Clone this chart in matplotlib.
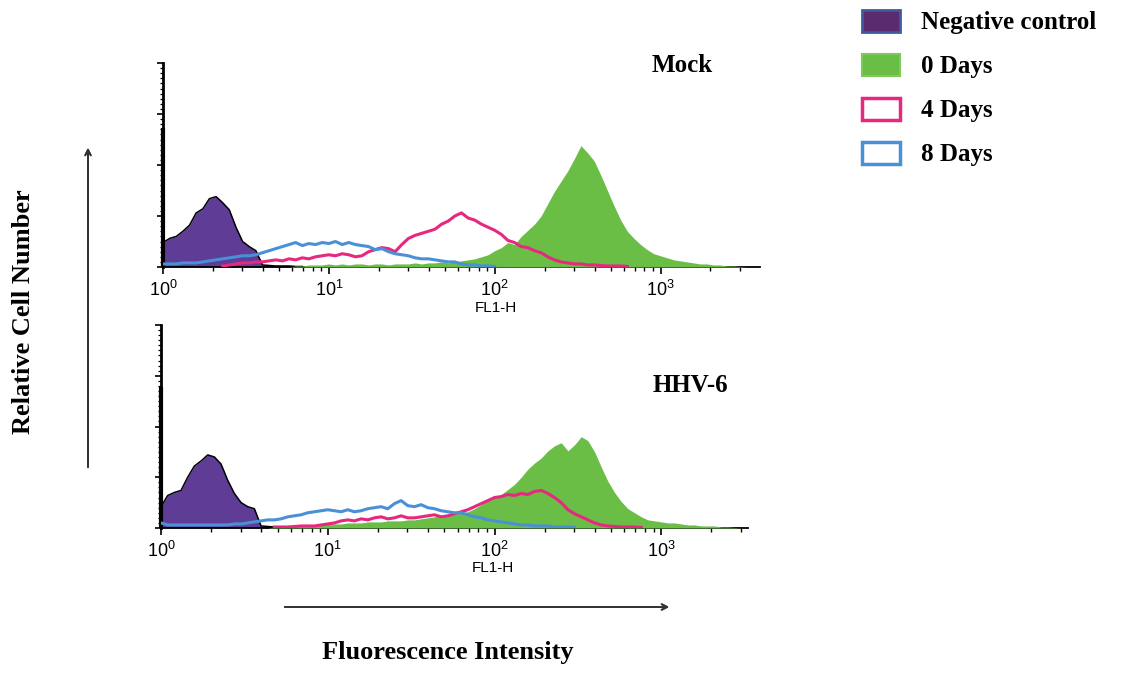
import numpy as np
import matplotlib
matplotlib.use("Agg")
import matplotlib.pyplot as plt
from matplotlib.patches import Patch
from matplotlib.ticker import MultipleLocator, LogLocator, NullFormatter

# FL1-H channels (log10 position of each histogram bin)
fl1_log = np.linspace(0, 3.6, 91)
fl1 = 10 ** fl1_log

series_names = ["Negative control", "0 Days", "4 Days", "8 Days"]
panel_titles = ["Mock", "HHV-6"]

# ---- Mock ----
mock_neg_first = 136
mock_neg = [24, 28, 30, 35, 41, 53, 57, 67, 69, 63,
            56, 39, 25, 20, 16, 2, 1.5, 1, 1, 1,
            0.5, 0.5, 0, 0, 0, 0, 0, 0, 0, 0,
            0, 0, 0, 0, 0, 0, 0, 0, 0, 0,
            0, 0, 0, 0, 0, 0, 0, 0, 0, 0,
            0, 0, 0, 0, 0, 0, 0, 0, 0, 0,
            0, 0, 0, 0, 0, 0, 0, 0, 0, 0,
            0, 0, 0, 0, 0, 0, 0, 0, 0, 0,
            0, 0, 0, 0, 0, 0, 0, 0, 0, 0,
            0]
mock_d0 = [0, 0, 0, 0, 0, 0, 0, 0, 0, 0,
           0, 0, 0, 0, 0, 0, 0, 0, 0, 0,
           1, 1, 2, 2, 2, 3, 2, 3, 2, 3,
           3, 2, 3, 3, 2, 3, 3, 3, 4, 3,
           4, 4, 5, 4, 5, 6, 7, 8, 10, 12,
           16, 19, 24, 22, 30, 36, 42, 50, 62, 74,
           84, 94, 106, 119, 112, 104, 90, 75, 60, 46,
           35, 28, 22, 17, 13, 11, 9, 7, 6, 5,
           4, 3, 3, 2, 2, 1, 1, 0.5, 0, 0,
           0]
mock_d4 = [0, 0, 0, 0, 0, 0, 0, 0, 0, 1,
           2, 3, 4, 4, 5, 5, 6, 7, 6, 8,
           7, 9, 8, 10, 11, 12, 11, 13, 12, 10,
           11, 15, 17, 19, 18, 15, 22, 28, 31, 33,
           35, 37, 42, 45, 50, 53, 48, 46, 42, 39,
           36, 32, 26, 24, 20, 19, 16, 14, 10, 7,
           5, 4, 3, 3, 2, 2, 1.5, 1, 1, 1,
           0.5, 0, 0, 0, 0, 0, 0, 0, 0, 0,
           0, 0, 0, 0, 0, 0, 0, 0, 0, 0,
           0]
mock_d8 = [3, 3, 3, 4, 4, 4, 5, 6, 7, 8,
           9, 10, 11, 11, 12, 14, 16, 18, 20, 22,
           24, 21, 23, 22, 24, 23, 25, 22, 24, 22,
           21, 20, 17, 18, 15, 13, 12, 11, 9, 8,
           8, 7, 6, 5, 5, 3, 2, 2, 1, 1,
           0.5, 0, 0, 0, 0, 0, 0, 0, 0, 0,
           0, 0, 0, 0, 0, 0, 0, 0, 0, 0,
           0, 0, 0, 0, 0, 0, 0, 0, 0, 0,
           0, 0, 0, 0, 0, 0, 0, 0, 0, 0,
           0]

# ---- HHV-6 ----
hhv_neg_first = 139
hhv_neg = [21, 32, 35, 37, 50, 61, 66, 72, 70, 63,
           47, 34, 25, 21, 19, 2, 1.5, 1, 1, 0.5,
           0.5, 0, 0, 0, 0, 0, 0, 0, 0, 0,
           0, 0, 0, 0, 0, 0, 0, 0, 0, 0,
           0, 0, 0, 0, 0, 0, 0, 0, 0, 0,
           0, 0, 0, 0, 0, 0, 0, 0, 0, 0,
           0, 0, 0, 0, 0, 0, 0, 0, 0, 0,
           0, 0, 0, 0, 0, 0, 0, 0, 0, 0,
           0, 0, 0, 0, 0, 0, 0, 0, 0, 0,
           0]
hhv_d0 = [0, 0, 0, 0, 0, 0, 0, 0, 0, 0,
          0, 0, 0, 0, 0, 0, 0, 1, 1, 2,
          2, 2, 3, 3, 3, 4, 4, 4, 5, 5,
          5, 6, 6, 6, 7, 7, 7, 8, 8, 9,
          10, 11, 12, 13, 14, 15, 16, 19, 23, 27,
          30, 33, 38, 43, 50, 58, 64, 69, 76, 81,
          84, 76, 82, 90, 86, 75, 60, 46, 35, 26,
          19, 15, 11, 8, 7, 6, 5, 5, 4, 3,
          3, 2, 2, 2, 1, 1, 0.5, 0, 0, 0,
          0]
hhv_d4 = [0, 0, 0, 0, 0, 0, 0, 0, 0, 0,
          0, 0, 0, 0, 0, 0, 0, 1, 1, 1,
          1.5, 2, 2, 2, 3, 4, 5, 7, 8, 7,
          9, 8, 10, 11, 9, 10, 12, 10, 10, 11,
          12, 13, 11, 12, 14, 16, 18, 21, 24, 27,
          30, 31, 33, 32, 34, 33, 36, 37, 34, 30,
          25, 18, 14, 11, 8, 5, 3, 2, 1.5, 1,
          1, 1, 0.5, 0, 0, 0, 0, 0, 0, 0,
          0, 0, 0, 0, 0, 0, 0, 0, 0, 0,
          0]
hhv_d8 = [5, 3, 3, 3, 3, 3, 3, 3, 3, 3,
          3, 4, 4, 5, 6, 7, 8, 8, 9, 11,
          12, 13, 15, 16, 17, 18, 17, 16, 18, 16,
          17, 19, 20, 21, 19, 24, 27, 22, 21, 23,
          20, 19, 17, 16, 15, 15, 13, 11, 10, 8,
          7, 6, 5, 4, 3, 3, 2, 2, 2, 1,
          1, 1, 0.5, 0, 0, 0, 0, 0, 0, 0,
          0, 0, 0, 0, 0, 0, 0, 0, 0, 0,
          0, 0, 0, 0, 0, 0, 0, 0, 0, 0,
          0]

purple = "#5f3c96"
green = "#6abd45"
pink = "#e8287e"
blue = "#4a90d6"

serif_bold = {"family": "Liberation Serif", "weight": "bold"}
plt.rcParams["font.family"] = ["Liberation Sans", "DejaVu Sans"]


def line_values(v):
    v = np.asarray(v, dtype=float)
    return np.where(v > 0, v, np.nan)


def draw_panel(ax, neg, neg_first, d0, d4, d8, right_log, label_pos):
    ax.fill_between(fl1, 0, neg, color=purple, lw=0, zorder=2)
    ax.plot(fl1, line_values(neg), color="black", lw=1.1, zorder=3)
    ax.vlines(fl1[0], 0, neg_first, color="black", lw=3, zorder=4, clip_on=False)
    ax.fill_between(fl1, 0, d0, color=green, lw=0, zorder=3)
    ax.plot(fl1, line_values(d4), color=pink, lw=2.2, zorder=5)
    ax.plot(fl1, line_values(d8), color=blue, lw=2.2, zorder=6)

    ax.set_xscale("log")
    ax.set_xlim(1, 10 ** right_log)
    ax.set_ylim(0, 200)
    ax.xaxis.set_major_locator(LogLocator(base=10, numticks=10))
    ax.xaxis.set_minor_locator(LogLocator(base=10, subs=np.arange(2, 10), numticks=10))
    ax.xaxis.set_minor_formatter(NullFormatter())
    ax.yaxis.set_major_locator(MultipleLocator(50))
    ax.yaxis.set_minor_locator(MultipleLocator(5))
    ax.set_yticklabels([])
    ax.tick_params(axis="x", which="major", length=5, width=1.2, labelsize=13, pad=4)
    ax.tick_params(axis="x", which="minor", length=3, width=1)
    ax.tick_params(axis="y", which="major", length=4, width=1.2)
    ax.tick_params(axis="y", which="minor", length=2.5, width=0.9)
    for side in ["top", "right"]:
        ax.spines[side].set_visible(False)
    ax.spines["left"].set_linewidth(2)
    ax.spines["bottom"].set_linewidth(1.3)
    ax.set_xlabel("FL1-H", fontsize=11, labelpad=0)
    ax.xaxis.set_label_coords(label_pos, -0.165)
    ax.xaxis.label.set_va("top")
    ax.patch.set_alpha(0)


fig = plt.figure(figsize=(11.26, 6.75), dpi=100)
W, H = 1126, 675

ax_top = fig.add_axes([163 / W, 1 - 267 / H, (760 - 163) / W, (267 - 63) / H])
ax_bot = fig.add_axes([161 / W, 1 - 528 / H, (748 - 161) / W, (528 - 325) / H])

draw_panel(ax_top, mock_neg, mock_neg_first, mock_d0, mock_d4, mock_d8, 3.6, 0.558)
draw_panel(ax_bot, hhv_neg, hhv_neg_first, hhv_d0, hhv_d4, hhv_d8, 3.52, 0.566)

fig.text(682 / W, 1 - 66 / H, panel_titles[0], ha="center", va="center",
         fontsize=18, fontdict=serif_bold)
fig.text(690 / W, 1 - 385 / H, panel_titles[1], ha="center", va="center",
         fontsize=18, fontdict=serif_bold)

# axis titles with arrows
fig.text(24 / W, 1 - 312 / H, "Relative Cell Number", rotation=90, ha="center",
         va="center", fontsize=19, fontdict=serif_bold)
fig.text(448 / W, 1 - 653 / H, "Fluorescence Intensity", ha="center",
         va="center", fontsize=19, fontdict=serif_bold)
fig.add_artist(plt.annotate("", xy=(88 / W, 1 - 145 / H), xytext=(88 / W, 1 - 470 / H),
                            xycoords="figure fraction",
                            arrowprops=dict(arrowstyle="->", color="#333333", lw=1.3)))
fig.add_artist(plt.annotate("", xy=(672 / W, 1 - 607 / H), xytext=(282 / W, 1 - 607 / H),
                            xycoords="figure fraction",
                            arrowprops=dict(arrowstyle="->", color="#333333", lw=1.3)))

handles = [
    Patch(facecolor="#5a2b6e", edgecolor="#3f5b9a", lw=2),
    Patch(facecolor=green, edgecolor="#7acb5a", lw=1.5),
    Patch(facecolor="white", edgecolor=pink, lw=2.5),
    Patch(facecolor="white", edgecolor=blue, lw=2.5),
]
fig.legend(handles, series_names, loc="upper left",
           bbox_to_anchor=(862 / W, 1 - 10 / H), frameon=False,
           prop={"family": "Liberation Serif", "weight": "bold", "size": 18},
           handlelength=1.5, handleheight=0.96, handletextpad=0.85,
           labelspacing=0.78, borderpad=0, borderaxespad=0)

fig.savefig("out.png", dpi=100)
